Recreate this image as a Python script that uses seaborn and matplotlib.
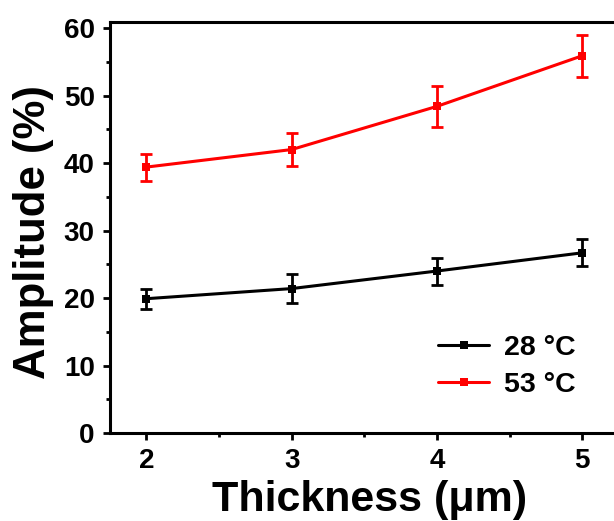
import matplotlib
matplotlib.use("Agg")
import matplotlib.pyplot as plt
import seaborn as sns
import pandas as pd
from matplotlib.ticker import MultipleLocator

thickness = [2, 3, 4, 5]
amp_28 = [19.9, 21.4, 24.0, 26.7]
err_28 = [1.5, 2.1, 2.0, 2.0]
amp_53 = [39.4, 42.0, 48.4, 55.9]
err_53 = [2.0, 2.5, 3.0, 3.1]
labels = ["28 °C", "53 °C"]
colors = ["black", "#ff0000"]

sns.set_theme(style="ticks")
plt.rcParams['font.family'] = ['Liberation Sans', 'DejaVu Sans']
plt.rcParams['font.weight'] = 'bold'
plt.rcParams['text.color'] = 'black'
plt.rcParams['axes.labelcolor'] = 'black'
plt.rcParams['xtick.color'] = 'black'
plt.rcParams['ytick.color'] = 'black'

df = pd.concat([
    pd.DataFrame({"x": thickness, "y": amp_28, "s": labels[0]}),
    pd.DataFrame({"x": thickness, "y": amp_53, "s": labels[1]}),
])

fig = plt.figure(figsize=(6.14, 5.21), dpi=100)
ax = fig.add_axes([110/614, 88/521, 508.6/614, 411/521])

sns.lineplot(data=df, x="x", y="y", hue="s", palette=colors, marker="s",
             markersize=6, markeredgewidth=0, linewidth=2.2, ax=ax)
for ys, es, c in [(amp_28, err_28, colors[0]), (amp_53, err_53, colors[1])]:
    ax.errorbar(thickness, ys, yerr=es, fmt="none", ecolor=c, elinewidth=2,
                capsize=4, capthick=2)

ax.set_xlim(1.75, 5.25)
ax.set_ylim(0, 60.9)
ax.xaxis.set_major_locator(MultipleLocator(1))
ax.xaxis.set_minor_locator(MultipleLocator(0.5))
ax.yaxis.set_major_locator(MultipleLocator(10))
ax.yaxis.set_minor_locator(MultipleLocator(5))
ax.tick_params(which="major", direction="out", length=5, width=2,
               labelsize=20, pad=6, colors="black")
ax.tick_params(which="minor", direction="out", length=3, width=2, colors="black")
for lab in ax.get_xticklabels() + ax.get_yticklabels():
    lab.set_fontweight("bold")
for sp in ax.spines.values():
    sp.set_linewidth(2.2)
    sp.set_color("black")

ax.set_xlabel("Thickness (μm)", fontsize=31, fontweight="bold", labelpad=4.3)
ax.xaxis.label.set_x(0.511)
ax.set_ylabel("Amplitude (%)", fontsize=31.5, fontweight="bold")
ax.yaxis.set_label_coords(-0.111, 0.489)

leg = ax.legend(loc="lower right", bbox_to_anchor=(0.965, 0.022), frameon=False,
                fontsize=20.5, handlelength=1.8, handletextpad=0.5, labelspacing=0.4)
for t in leg.get_texts():
    t.set_fontweight("bold")

fig.savefig("out.png", dpi=100)
